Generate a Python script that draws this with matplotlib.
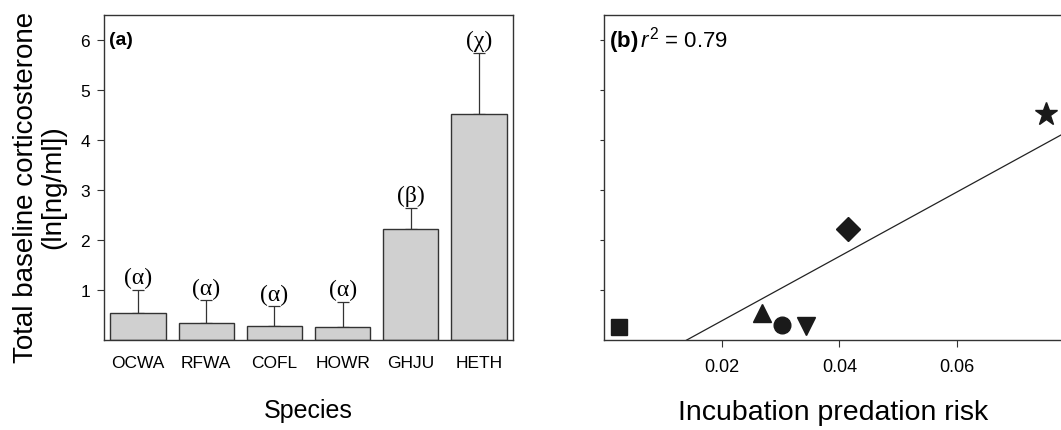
import numpy as np
import matplotlib
matplotlib.use("Agg")
import matplotlib.pyplot as plt

plt.rcParams['font.family'] = ['Liberation Sans', 'DejaVu Sans']
plt.rcParams['mathtext.fontset'] = 'custom'
plt.rcParams['mathtext.rm'] = 'Liberation Sans'
plt.rcParams['mathtext.it'] = 'Liberation Sans:italic'
plt.rcParams['mathtext.bf'] = 'Liberation Sans:bold'

# Panel (a): baseline corticosterone by species
species = ["OCWA", "RFWA", "COFL", "HOWR", "GHJU", "HETH"]
cort_mean = [0.54, 0.34, 0.29, 0.27, 2.23, 4.53]
cort_upper = [1.01, 0.80, 0.68, 0.77, 2.65, 5.75]
groups = ["(α)", "(α)", "(α)", "(α)", "(β)", "(χ)"]

# Panel (b): corticosterone vs. incubation predation risk
pred_risk = [0.0269, 0.0343, 0.0303, 0.0025, 0.0414, 0.0751]
pred_cort = [0.55, 0.29, 0.30, 0.27, 2.22, 4.52]
markers = ["^", "v", "o", "s", "D", "*"]
marker_sizes = [13, 13, 12, 12, 12, 17]
fit_slope = 64.5
fit_intercept = -0.907
r2_text = "0.79"

fig = plt.figure(figsize=(10.61, 4.31), dpi=100)
W, H = 1061, 431
ax1 = fig.add_axes([104 / W, 1 - 341 / H, (513 - 104) / W, (341 - 16) / H])
ax2 = fig.add_axes([604 / W, 1 - 341 / H, (1062 - 604) / W, (341 - 16) / H])

edge = "#333333"
x = np.arange(len(species))
err = np.array(cort_upper) - np.array(cort_mean)
ax1.bar(x, cort_mean, width=0.81, color="#d0d0d0", edgecolor=edge, linewidth=1.0, zorder=2)
ax1.errorbar(x, cort_mean, yerr=[np.zeros_like(err), err], fmt="none",
             ecolor=edge, elinewidth=0.9, capsize=4.5, capthick=0.9, zorder=1)
for xi, top, g in zip(x, cort_upper, groups):
    ax1.text(xi, top + 0.02, g, ha="center", va="bottom", fontsize=17,
             family=["Liberation Serif", "DejaVu Serif"])

ax1.set_xlim(-0.5, 5.5)
ax1.set_ylim(0, 6.5)
ax1.set_xticks(x)
ax1.set_xticklabels(species)
ax1.set_yticks([1, 2, 3, 4, 5, 6])
ax1.tick_params(axis="x", length=0, pad=11, labelsize=12.5)
ax1.tick_params(axis="y", length=5, width=0.8, labelsize=12.5, pad=5, color=edge)
ax1.text(0.012, 0.925, "(a)", transform=ax1.transAxes, fontsize=14,
         fontweight="bold", ha="left", va="center")
ax1.set_xlabel("Species", fontsize=18, labelpad=20)
ax1.set_ylabel("Total baseline corticosterone\n(ln[ng/ml])", fontsize=20,
               linespacing=1.05)
ax1.yaxis.set_label_coords(-0.093, 0.474)

for xv, yv, m, ms in zip(pred_risk, pred_cort, markers, marker_sizes):
    ax2.plot(xv, yv, marker=m, markersize=ms, color="#1a1a1a", linestyle="none")
fx = np.array([0, 0.08])
ax2.plot(fx, fit_slope * fx + fit_intercept, color="#222222", linewidth=0.9)

ax2.set_xlim(0, 0.0778)
ax2.set_ylim(0, 6.5)
ax2.set_xticks([0.02, 0.04, 0.06])
ax2.set_xticklabels(["0.02", "0.04", "0.06"])
ax2.set_yticks([1, 2, 3, 4, 5, 6])
ax2.set_yticklabels([])
ax2.tick_params(axis="x", length=5, width=0.8, labelsize=13, pad=8, color=edge)
ax2.tick_params(axis="y", length=3, width=0.8, color=edge)
ax2.text(0.012, 0.925, r"$\mathbf{(b)}\,r^2$ = " + r2_text, transform=ax2.transAxes,
         fontsize=16, ha="left", va="center")
ax2.set_xlabel("Incubation predation risk", fontsize=20.5, labelpad=17)

for ax in (ax1, ax2):
    for s in ax.spines.values():
        s.set_linewidth(1.0)
        s.set_color(edge)

fig.savefig("out.png", dpi=100)
